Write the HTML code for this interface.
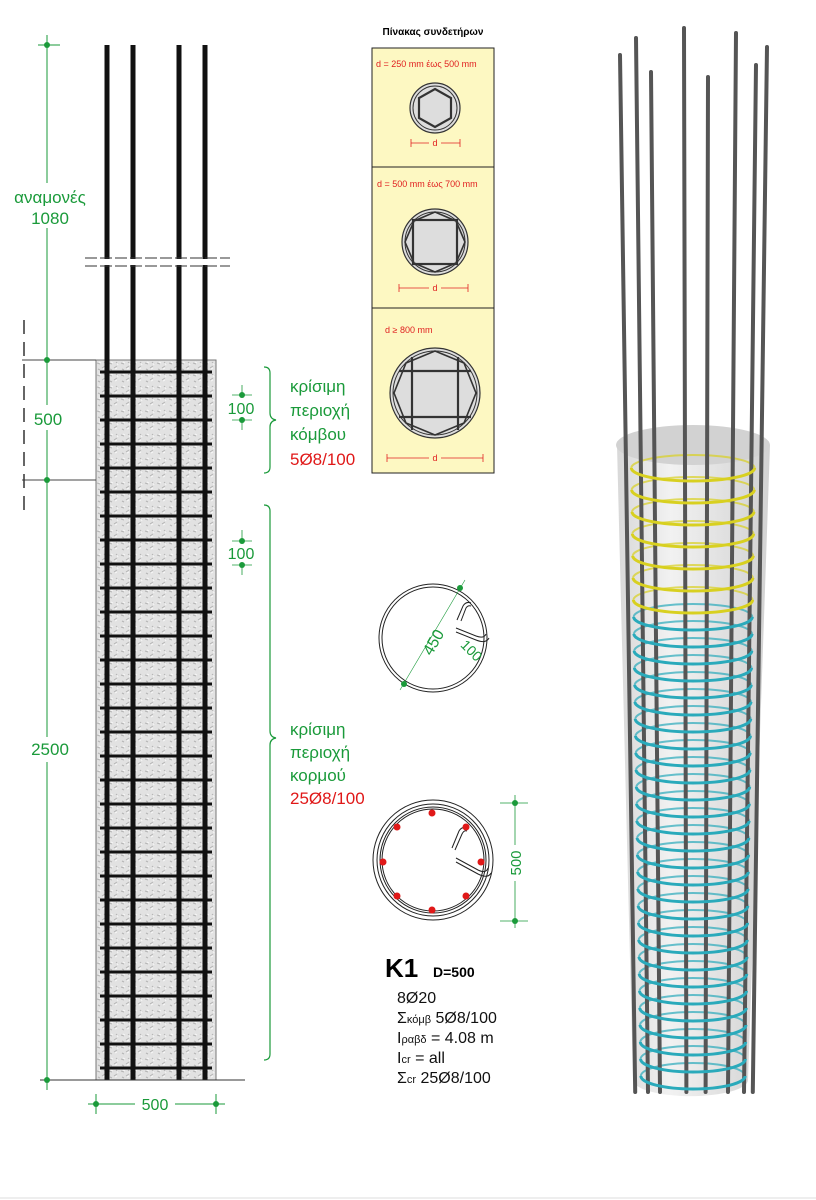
<!DOCTYPE html>
<html><head><meta charset="utf-8"><style>
html,body{margin:0;padding:0;background:#fff;}
svg{display:block;font-family:"Liberation Sans",sans-serif;}
</style></head><body>
<svg id="s" width="816" height="1200" viewBox="0 0 816 1200" xmlns="http://www.w3.org/2000/svg">
<defs>
<pattern id="conc" width="12" height="12" patternUnits="userSpaceOnUse">
<rect width="12" height="12" fill="#e2e2e2"/>
<path d="M1 3l3 1M6 8l3-2M8 2l2 2M2 9l2 1" stroke="#b4b4b4" stroke-width="1"/>
<path d="M3 2l2 1M7 9l2-1M9 3l1 2" stroke="#f6f6f6" stroke-width="1"/>
</pattern>
<linearGradient id="cyl" x1="0" x2="1">
<stop offset="0" stop-color="#d4d4d4"/><stop offset="0.35" stop-color="#f0f0f0"/><stop offset="1" stop-color="#cdcdcd"/>
</linearGradient>
</defs>
<!-- left elevation -->
<rect x="96" y="360" width="120" height="720" fill="url(#conc)" stroke="#777" stroke-width="1"/>
<g id="stirrups"></g>
<g stroke="#111" stroke-width="5">
<line x1="107" y1="45" x2="107" y2="1080"/><line x1="133" y1="45" x2="133" y2="1080"/>
<line x1="179" y1="45" x2="179" y2="1080"/><line x1="205" y1="45" x2="205" y2="1080"/>
</g>
<rect x="85" y="259" width="145" height="6" fill="#fff"/>
<g stroke="#333" stroke-width="1" stroke-dasharray="12 3">
<line x1="85" y1="258" x2="230" y2="258"/><line x1="85" y1="266" x2="230" y2="266"/></g>
<line x1="40" y1="1080" x2="245" y2="1080" stroke="#333"/>
<g stroke="#444" stroke-width="1"><line x1="22" y1="360" x2="96" y2="360"/><line x1="22" y1="480" x2="96" y2="480"/></g>
<line x1="24" y1="320" x2="24" y2="515" stroke="#333" stroke-width="1.5" stroke-dasharray="14 8"/>
<line x1="47" y1="35" x2="47" y2="1090" stroke="#1a9a3a" stroke-width="1"/>
<line x1="38" y1="45" x2="60" y2="45" stroke="#1a9a3a"/>
<g fill="#1a9a3a"><circle cx="47" cy="45" r="3"/><circle cx="47" cy="360" r="3"/><circle cx="47" cy="480" r="3"/><circle cx="47" cy="1080" r="3"/></g>
<g fill="#fff"><rect x="10" y="183" width="80" height="45"/><rect x="28" y="405" width="40" height="25"/><rect x="25" y="737" width="50" height="25"/></g>
<g fill="#1a9a3a" font-size="17" text-anchor="middle">
<text x="50" y="203">αναμονές</text><text x="50" y="224">1080</text>
<text x="48" y="425">500</text><text x="50" y="755">2500</text>
</g>
<line x1="88" y1="1104" x2="225" y2="1104" stroke="#1a9a3a"/>
<line x1="96" y1="1094" x2="96" y2="1114" stroke="#1a9a3a"/><line x1="216" y1="1094" x2="216" y2="1114" stroke="#1a9a3a"/>
<g fill="#1a9a3a"><circle cx="96" cy="1104" r="3"/><circle cx="216" cy="1104" r="3"/></g>
<rect x="135" y="1095" width="40" height="18" fill="#fff"/>
<text x="155" y="1110" fill="#1a9a3a" font-size="16" text-anchor="middle">500</text>
<!-- dims 100 -->
<g stroke="#1a9a3a" stroke-width="0.8"><line x1="242" y1="385" x2="242" y2="430"/><line x1="232" y1="395" x2="252" y2="395"/><line x1="232" y1="420" x2="252" y2="420"/>
<line x1="242" y1="530" x2="242" y2="575"/><line x1="232" y1="541" x2="252" y2="541"/><line x1="232" y1="565" x2="252" y2="565"/></g>
<rect x="225" y="398" width="34" height="19" fill="#fff"/><rect x="225" y="544" width="34" height="19" fill="#fff"/>
<g fill="#1a9a3a"><circle cx="242" cy="395" r="3"/><circle cx="242" cy="420" r="3"/><circle cx="242" cy="541" r="3"/><circle cx="242" cy="565" r="3"/></g>
<g fill="#1a9a3a" font-size="16" text-anchor="middle"><text x="241" y="414">100</text><text x="241" y="559">100</text></g>
<!-- braces -->
<g fill="none" stroke="#1a9a3a" stroke-width="1.2">
<path d="M264 367q6 0 6 6v40q0 6 6 7q-6 1 -6 7v40q0 6 -6 6"/>
<path d="M264 505q6 0 6 6v220q0 6 6 7q-6 1 -6 7v309q0 6 -6 6"/>
</g>
<g font-size="17" fill="#1a9a3a"><text x="290" y="392">κρίσιμη</text><text x="290" y="416">περιοχή</text><text x="290" y="440">κόμβου</text>
<text x="290" y="735">κρίσιμη</text><text x="290" y="758">περιοχή</text><text x="290" y="781">κορμού</text></g>
<g font-size="17" fill="#e01818"><text x="290" y="465">5Ø8/100</text><text x="290" y="804">25Ø8/100</text></g>
<!-- table -->
<text x="433" y="35" font-size="10" font-weight="bold" text-anchor="middle">Πίνακας συνδετήρων</text>
<rect x="372" y="48" width="122" height="425" fill="#fdf8c2" stroke="#222" stroke-width="1"/>
<line x1="372" y1="167" x2="494" y2="167" stroke="#222"/><line x1="372" y1="308" x2="494" y2="308" stroke="#222"/>
<g fill="#e02020" font-size="9"><text x="376" y="67">d = 250 mm έως 500 mm</text><text x="377" y="187">d = 500 mm έως 700 mm</text><text x="385" y="333">d ≥ 800 mm</text></g>
<g stroke="#333" fill="#ddd">
<circle cx="435" cy="108" r="25" stroke-width="1.2"/><circle cx="435" cy="108" r="22" fill="none" stroke-width="1"/>
<polygon points="435,89 451,98 451,118 435,127 419,118 419,98" fill="none" stroke-width="2.2"/>
<circle cx="435" cy="242" r="33" stroke-width="1.2"/><circle cx="435" cy="242" r="30" fill="none"/>
<rect x="413" y="220" width="44" height="44" fill="none" stroke-width="2.2"/>
<polygon points="435,212 456,221 465,242 456,263 435,272 414,263 405,242 414,221" fill="none" stroke-width="1.6"/>
<circle cx="435" cy="393" r="45" stroke-width="1.2"/><circle cx="435" cy="393" r="42" fill="none"/>
<polygon points="435,351 464,363 476,393 464,423 435,435 406,423 394,393 406,363" fill="none" stroke-width="1.6"/>
<g stroke-width="2.2"><line x1="412" y1="357" x2="412" y2="430"/><line x1="458" y1="357" x2="458" y2="430"/><line x1="399" y1="371" x2="471" y2="371"/><line x1="399" y1="417" x2="471" y2="417"/></g>
</g>
<g stroke="#e02020" stroke-width="0.8"><line x1="411" y1="143" x2="460" y2="143"/><line x1="399" y1="288" x2="468" y2="288"/><line x1="387" y1="458" x2="483" y2="458"/>
<line x1="411" y1="139" x2="411" y2="147"/><line x1="460" y1="139" x2="460" y2="147"/><line x1="399" y1="284" x2="399" y2="292"/><line x1="468" y1="284" x2="468" y2="292"/><line x1="387" y1="454" x2="387" y2="462"/><line x1="483" y1="454" x2="483" y2="462"/></g>
<g fill="#fdf8c2"><rect x="429" y="137" width="12" height="12"/><rect x="429" y="282" width="12" height="12"/><rect x="429" y="452" width="12" height="12"/></g>
<g fill="#e02020" font-size="9" text-anchor="middle"><text x="435" y="146">d</text><text x="435" y="291">d</text><text x="435" y="461">d</text></g>
<!-- circular sections -->
<g fill="none" stroke="#222" stroke-width="1"><circle cx="433" cy="638" r="54"/><circle cx="433" cy="638" r="51"/>
<path d="M457 620l6-14q3-5 8-3M461 621l5-13q2-3 5-2"/>
<path d="M456 628l20 8q8 3 10-2M456 632l20 8q10 4 13-2"/></g>
<line x1="400" y1="690" x2="465" y2="580" stroke="#1a9a3a" stroke-width="0.6"/>
<g fill="#1a9a3a"><circle cx="404" cy="684" r="3"/><circle cx="460" cy="588" r="3"/></g>
<text transform="translate(438,645) rotate(-60)" fill="#1a9a3a" font-size="16" text-anchor="middle">450</text>
<text transform="translate(468,654) rotate(45)" fill="#1a9a3a" font-size="14" text-anchor="middle">100</text>
<g fill="none" stroke="#222" stroke-width="1"><circle cx="433" cy="860" r="60"/><circle cx="433" cy="860" r="56"/><circle cx="433" cy="860" r="53"/><circle cx="433" cy="860" r="51"/>
<path d="M452 848l7-17q3-5 8-3M455 850l7-16q2-4 5-3"/><path d="M456 858l22 12q8 4 10-2M456 862l22 12q10 5 13-1"/></g>
<g fill="#e01818"><circle cx="432" cy="813" r="3.5"/><circle cx="466" cy="827" r="3.5"/><circle cx="481" cy="862" r="3.5"/><circle cx="466" cy="896" r="3.5"/><circle cx="432" cy="910" r="3.5"/><circle cx="397" cy="896" r="3.5"/><circle cx="383" cy="862" r="3.5"/><circle cx="397" cy="827" r="3.5"/></g>
<g stroke="#1a9a3a" stroke-width="0.8"><line x1="515" y1="795" x2="515" y2="928"/><line x1="500" y1="803" x2="528" y2="803"/><line x1="500" y1="921" x2="528" y2="921"/></g>
<rect x="505" y="845" width="20" height="36" fill="#fff"/>
<g fill="#1a9a3a"><circle cx="515" cy="803" r="3"/><circle cx="515" cy="921" r="3"/></g>
<text transform="translate(521,863) rotate(-90)" fill="#1a9a3a" font-size="15" text-anchor="middle">500</text>
<text x="385" y="977" font-size="26" font-weight="bold">K1</text>
<text x="433" y="977" font-size="14" font-weight="bold">D=500</text>
<g font-size="16" fill="#111"><text x="397" y="1003">8Ø20</text>
<text x="397" y="1023">Σ<tspan font-size="11">κόμβ</tspan> 5Ø8/100</text>
<text x="397" y="1043">I<tspan font-size="11">ραβδ</tspan> = 4.08 m</text>
<text x="397" y="1063">I<tspan font-size="11">cr</tspan> = all</text>
<text x="397" y="1083">Σ<tspan font-size="11">cr</tspan> 25Ø8/100</text></g>
<!-- 3D column -->
<path d="M617 445 L633 1080 A57 16 0 0 0 748 1080 L770 445 Z" fill="url(#cyl)" opacity="0.9"/>
<ellipse cx="693" cy="445" rx="77" ry="20" fill="#d2d2d2"/>
<g id="back"></g>
<g id="rods"></g>
<g id="front"></g>
<line x1="0" y1="1198" x2="816" y2="1198" stroke="#ddd"/>
</svg>
<script>
var NS="http://www.w3.org/2000/svg";
function el(p,t,a){var e=document.createElementNS(NS,t);for(var k in a)e.setAttribute(k,a[k]);document.getElementById(p).appendChild(e);return e;}
for(var y=372;y<=1072;y+=24)el("stirrups","line",{x1:100,y1:y,x2:212,y2:y,stroke:"#111","stroke-width":3});
var tops=[[617,55],[633,38],[648,72],[681,28],[705,77],[733,33],[753,65],[764,47]];
tops.forEach(function(t){var bx=693+(t[0]-693)*0.8;el("rods","line",{x1:t[0]+3,y1:t[1],x2:bx+3,y2:1092,stroke:"#555","stroke-width":4,"stroke-linecap":"round"});});
var ys=[];for(var y=468;y<=600;y+=22)ys.push(y);for(var y=617;y<=1085;y+=17)ys.push(y);
ys.forEach(function(y){var f=(y-445)/640;var rx=62-10*f;var c=y<605?"#d8d020":"#2aaabb";
el("back","path",{d:"M"+(693-rx)+" "+y+" A"+rx+" 13 0 0 1 "+(693+rx)+" "+y,fill:"none",stroke:c,"stroke-width":2,opacity:0.7});
el("front","path",{d:"M"+(693-rx)+" "+y+" A"+rx+" 13 0 0 0 "+(693+rx)+" "+y,fill:"none",stroke:c,"stroke-width":3});});
</script>
</body></html>
